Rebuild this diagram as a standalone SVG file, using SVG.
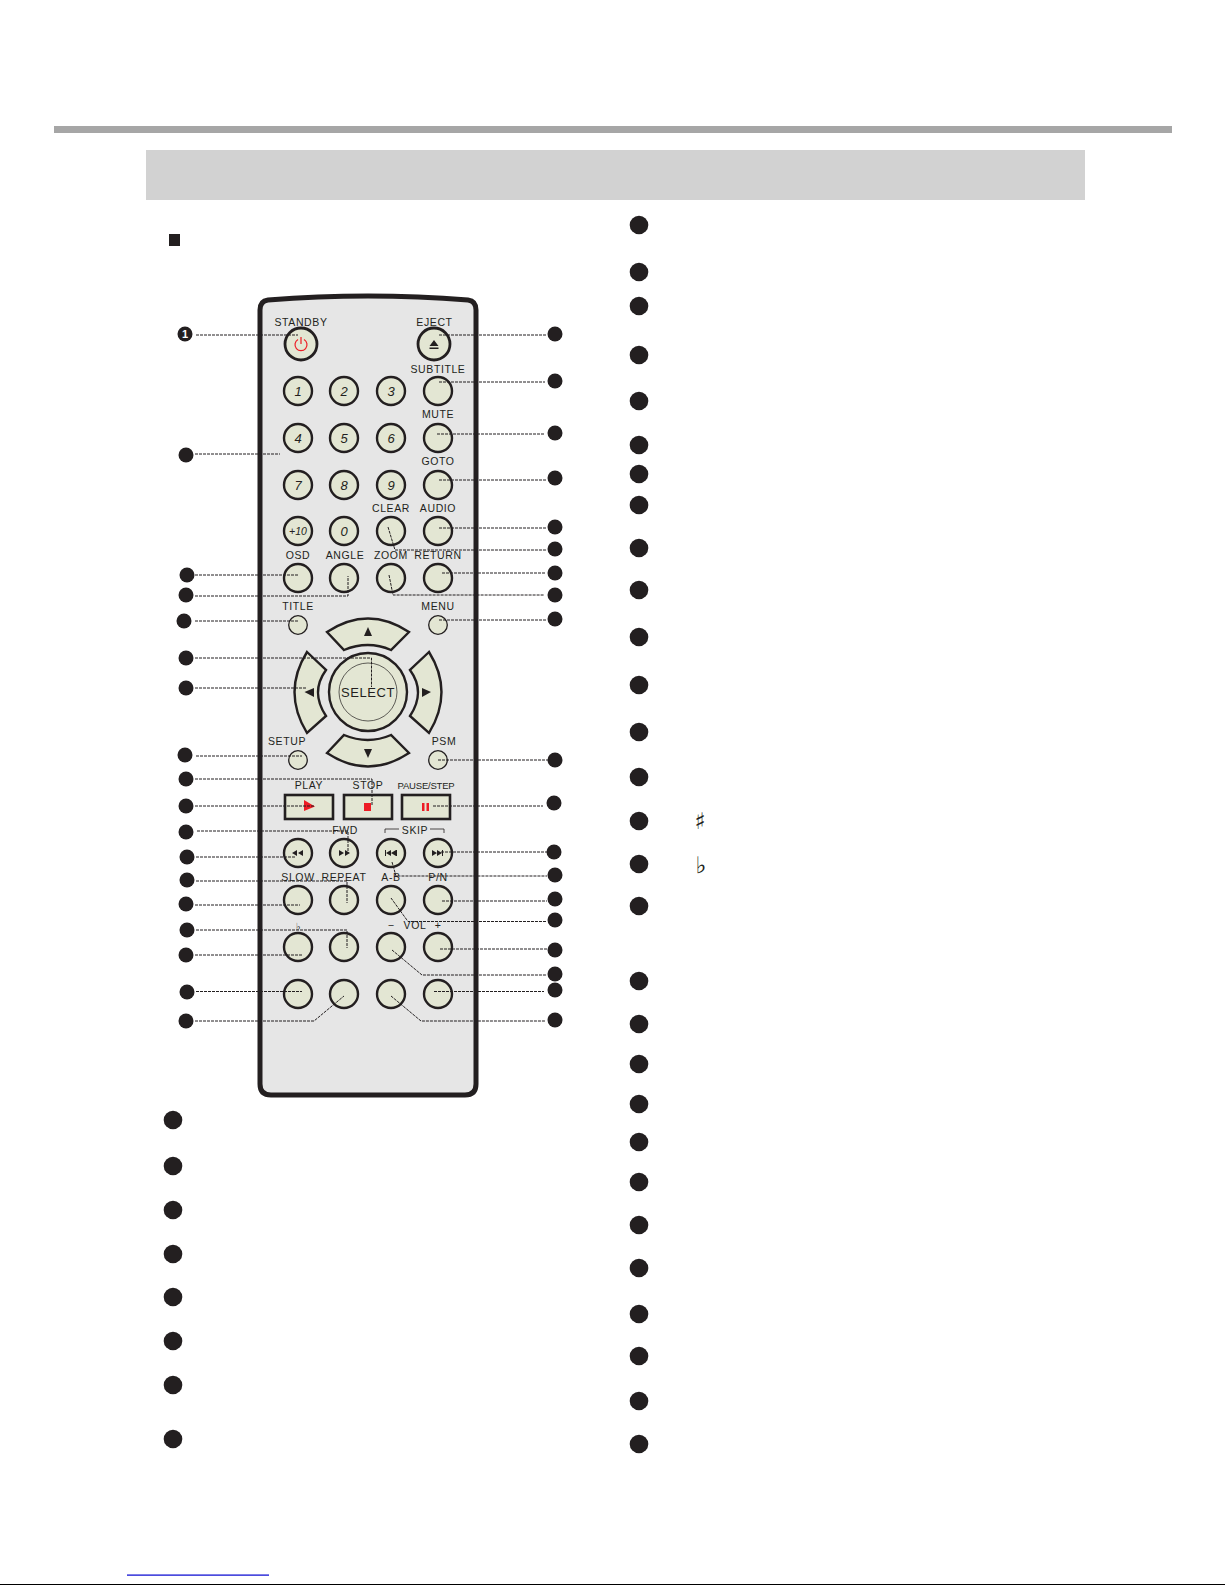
<svg xmlns="http://www.w3.org/2000/svg" width="1225" height="1585" viewBox="0 0 1225 1585">
<style>
.l{font-family:"Liberation Sans",Arial,sans-serif;font-size:10.5px;letter-spacing:.6px;fill:#231f20;text-anchor:middle}
.n{font-family:"Liberation Sans",Arial,sans-serif;font-size:13px;font-style:italic;fill:#231f20;text-anchor:middle}
.b{fill:#e3e6d3;stroke:#231f20;stroke-width:2.400}
.b3{fill:#e3e6d3;stroke:#231f20;stroke-width:2.800}
.d{fill:#231f20}
.c{fill:none;stroke:#231f20;stroke-width:1;stroke-dasharray:3 1}
.s{font-family:"DejaVu Sans",sans-serif;font-weight:700;fill:#231f20;text-anchor:middle}
</style>
<rect width="1225" height="1585" fill="#fff"/>
<g id="header">
<rect x="54" y="126" width="1118" height="7" fill="#a6a6a6"/>
<rect x="146" y="150" width="939" height="50" fill="#d2d2d2"/>
<rect x="169" y="234" width="11" height="12" fill="#231f20"/>
</g>
<g id="remote">
<path d="M268 300Q368 292 468 300Q476 301 476 310V1084Q476 1095 465 1095H271Q260 1095 260 1084V310Q260 301 268 300Z" fill="#e6e6e6" stroke="#231f20" stroke-width="5"/>
</g>
<g id="btn-standby"><circle class="b3" cx="301" cy="344" r="16"/><path d="M298 339.500A6 6 0 1 0 304 339.500M301 337V344" fill="none" stroke="#ed1c24" stroke-width="1.200"/><text class="l" x="301" y="326">STANDBY</text></g>
<g id="btn-eject"><circle class="b3" cx="434" cy="344" r="16"/><path d="M434 340L429.500 346H438.500ZM429.500 347.500H438.500V349H429.500Z" fill="#231f20"/><text class="l" x="434.500" y="326">EJECT</text></g>
<g id="btn-1"><circle class="b" cx="298" cy="391" r="14"/><text class="n" x="298" y="396">1</text></g>
<g id="btn-2"><circle class="b" cx="344" cy="391" r="14"/><text class="n" x="344" y="396">2</text></g>
<g id="btn-3"><circle class="b" cx="391" cy="391" r="14"/><text class="n" x="391" y="396">3</text></g>
<g id="btn-subtitle"><circle class="b" cx="438" cy="391" r="14"/><text class="l" x="438" y="373">SUBTITLE</text></g>
<g id="btn-4"><circle class="b" cx="298" cy="438" r="14"/><text class="n" x="298" y="443">4</text></g>
<g id="btn-5"><circle class="b" cx="344" cy="438" r="14"/><text class="n" x="344" y="443">5</text></g>
<g id="btn-6"><circle class="b" cx="391" cy="438" r="14"/><text class="n" x="391" y="443">6</text></g>
<g id="btn-mute"><circle class="b" cx="438" cy="438" r="14"/><text class="l" x="438" y="418">MUTE</text></g>
<g id="btn-7"><circle class="b" cx="298" cy="485" r="14"/><text class="n" x="298" y="490">7</text></g>
<g id="btn-8"><circle class="b" cx="344" cy="485" r="14"/><text class="n" x="344" y="490">8</text></g>
<g id="btn-9"><circle class="b" cx="391" cy="485" r="14"/><text class="n" x="391" y="490">9</text></g>
<g id="btn-goto"><circle class="b" cx="438" cy="485" r="14"/><text class="l" x="438" y="465">GOTO</text></g>
<g id="btn-10"><circle class="b" cx="298" cy="531" r="14"/><text class="n" x="298" y="535" style="font-size:10.500px">+10</text></g>
<g id="btn-0"><circle class="b" cx="344" cy="531" r="14"/><text class="n" x="344" y="536">0</text></g>
<g id="btn-clear"><circle class="b" cx="391" cy="531" r="14"/><text class="l" x="391" y="512">CLEAR</text></g>
<g id="btn-audio"><circle class="b" cx="438" cy="531" r="14"/><text class="l" x="438" y="512">AUDIO</text></g>
<g id="btn-osd"><circle class="b" cx="298" cy="578" r="14"/><text class="l" x="298" y="559">OSD</text></g>
<g id="btn-angle"><circle class="b" cx="344" cy="578" r="14"/><text class="l" x="345" y="559">ANGLE</text></g>
<g id="btn-zoom"><circle class="b" cx="391" cy="578" r="14"/><text class="l" x="391" y="559">ZOOM</text></g>
<g id="btn-return"><circle class="b" cx="438" cy="578" r="14"/><text class="l" x="438" y="559">RETURN</text></g>
<g id="btn-title"><circle class="b" style="stroke-width:1.300" cx="298" cy="625" r="9.300"/><text class="l" x="298" y="610">TITLE</text></g>
<g id="btn-menu"><circle class="b" style="stroke-width:1.300" cx="438" cy="625" r="9.300"/><text class="l" x="438" y="610">MENU</text></g>
<g id="btn-up"><path class="b" d="M327 632Q368 605 409 632L391 650Q368 640 344 650Z"/><path class="d" d="M368 627L372 636H364Z"/></g>
<g id="btn-down"><path class="b" d="M327 753L344 735Q368 745 391 735L409 753Q368 780 327 753Z"/><path class="d" d="M368 758L372 749H364Z"/></g>
<g id="btn-left"><path class="b" d="M307 652L326 670Q310 692 326 716L307 733Q282 692 307 652Z"/><path class="d" d="M304.500 692L314 688V697Z"/></g>
<g id="btn-right"><path class="b" d="M429 652L410 670Q426 692 410 716L429 733Q454 692 429 652Z"/><path class="d" d="M431 692L422 688V697Z"/></g>
<g id="btn-select"><circle class="b" cx="368" cy="692" r="39"/><circle cx="368" cy="692" r="29" fill="none" stroke="#231f20" stroke-width=".7"/><text class="l" x="368" y="697" style="font-size:13px">SELECT</text></g>
<g id="btn-setup"><circle class="b" style="stroke-width:1.300" cx="298" cy="760" r="9.300"/><text class="l" x="287" y="745">SETUP</text></g>
<g id="btn-psm"><circle class="b" style="stroke-width:1.300" cx="438" cy="760" r="9.300"/><text class="l" x="444" y="745">PSM</text></g>
<g id="btn-play"><rect class="b" x="285" y="795" width="48" height="24" style="stroke-width:2.600"/><path d="M304 800L315 806.500L304 811Z" fill="#ed1c24"/><text class="l" x="309" y="789">PLAY</text></g>
<g id="btn-stop"><rect class="b" x="344" y="795" width="48" height="24" style="stroke-width:2.600"/><rect x="364" y="803" width="7" height="8" fill="#ed1c24"/><text class="l" x="368" y="789">STOP</text></g>
<g id="btn-pause"><rect class="b" x="402" y="795" width="48" height="24" style="stroke-width:2.600"/><path d="M422 803h2.500v8H422ZM426.500 803h2.500v8H426.500Z" fill="#ed1c24"/><text class="l" x="426" y="789" style="font-size:9.500px;letter-spacing:-.2px">PAUSE/STEP</text></g>
<g id="btn-rew"><circle class="b" cx="298" cy="853" r="14"/><path class="d" d="M292 853L297 850V856ZM298 853L303 850V856Z"/></g>
<g id="btn-fwd"><circle class="b" cx="344" cy="853" r="14"/><path class="d" d="M350 853L345 850V856ZM344 853L339 850V856Z"/><text class="l" x="345" y="834">FWD</text></g>
<g id="btn-prev"><circle class="b" cx="391" cy="853" r="14"/><path class="d" d="M385 850h1v6h-1ZM386 853L391 850V856ZM391 853L396 850V856ZM396 850h1v6h-1Z"/></g>
<g id="btn-next"><circle class="b" cx="438" cy="853" r="14"/><path class="d" d="M432 850L437 853L432 856ZM437 850L442 853L437 856ZM442 850h1v6h-1Z"/></g>
<g id="skip-label"><path d="M385 833V829H399M430 829H444V833" fill="none" stroke="#231f20" stroke-width=".8"/><text class="l" x="415" y="834">SKIP</text></g>
<g id="btn-slow"><circle class="b" cx="298" cy="900" r="14"/><text class="l" x="298" y="881">SLOW</text></g>
<g id="btn-repeat"><circle class="b" cx="344" cy="900" r="14"/><text class="l" x="344" y="881">REPEAT</text></g>
<g id="btn-ab"><circle class="b" cx="391" cy="900" r="14"/><text class="l" x="391" y="881">A-B</text></g>
<g id="btn-pn"><circle class="b" cx="438" cy="900" r="14"/><text class="l" x="438" y="881">P/N</text></g>
<g id="btn-flat"><circle class="b" cx="298" cy="947" r="14"/><text class="s" x="298" y="930" font-size="10">♭</text></g>
<g id="btn-sharp"><circle class="b" cx="344" cy="947" r="14"/></g>
<g id="btn-volminus"><circle class="b" cx="391" cy="947" r="14"/><text class="l" x="391" y="929">−</text></g>
<g id="btn-volplus"><circle class="b" cx="438" cy="947" r="14"/><text class="l" x="438" y="929">+</text></g>
<g id="vol-label"><text class="l" x="415" y="929">VOL</text></g>
<g id="btn-a"><circle class="b" cx="298" cy="994" r="14"/></g>
<g id="btn-b"><circle class="b" cx="344" cy="994" r="14"/></g>
<g id="btn-c"><circle class="b" cx="391" cy="994" r="14"/></g>
<g id="btn-d"><circle class="b" cx="438" cy="994" r="14"/></g>
<g id="connectors">
<path class="c" d="M196 335H298"/>
<path class="c" d="M195 454H280"/>
<path class="c" d="M195 575H298"/>
<path class="c" d="M195 596H348V576"/>
<path class="c" d="M195 621H298"/>
<path class="c" d="M195 658H371.500V687"/>
<path class="c" d="M195 688H306"/>
<path class="c" d="M196 756H302"/>
<path class="c" d="M195 779H372V805"/>
<path class="c" d="M195 806H315"/>
<path class="c" d="M197 831H348V853"/>
<path class="c" d="M196 857H295"/>
<path class="c" d="M196 881H347V903"/>
<path class="c" d="M195 905H300"/>
<path class="c" d="M196 930H347V948"/>
<path class="c" d="M195 955H302"/>
<path class="c" d="M196 991.500H302"/>
<path class="c" d="M195 1021H314L344 996"/>
<path class="c" d="M439 335H547"/>
<path class="c" d="M439 382H545"/>
<path class="c" d="M437 434H544"/>
<path class="c" d="M439 480H547"/>
<path class="c" d="M439 528H547"/>
<path class="c" d="M388 527L395 550H547"/>
<path class="c" d="M442 573H545"/>
<path class="c" d="M389 575L393 595H544"/>
<path class="c" d="M439 620H547"/>
<path class="c" d="M438 760H548"/>
<path class="c" d="M433 806H543"/>
<path class="c" d="M441 852H547"/>
<path class="c" d="M392 862L396 876H547"/>
<path class="c" d="M442 901H547"/>
<path class="c" d="M391 898L408 921.500H546"/>
<path class="c" d="M440 949H547"/>
<path class="c" d="M392 950L422 975H547"/>
<path class="c" d="M434 991.500H544"/>
<path class="c" d="M391 996L421 1021H545"/>
</g>
<g id="callouts-left">
<circle class="d" cx="185" cy="334" r="7.500"/>
<text x="185" y="338" font-family="Liberation Sans,sans-serif" font-weight="700" font-size="11" fill="#fff" text-anchor="middle">1</text>
<circle class="d" cx="186" cy="455" r="7.500"/>
<circle class="d" cx="187" cy="575" r="7.500"/>
<circle class="d" cx="186" cy="595" r="7.500"/>
<circle class="d" cx="184" cy="621" r="7.500"/>
<circle class="d" cx="186" cy="658" r="7.500"/>
<circle class="d" cx="186" cy="688" r="7.500"/>
<circle class="d" cx="185" cy="755" r="7.500"/>
<circle class="d" cx="186" cy="779" r="7.500"/>
<circle class="d" cx="186" cy="806" r="7.500"/>
<circle class="d" cx="186" cy="832" r="7.500"/>
<circle class="d" cx="187" cy="857" r="7.500"/>
<circle class="d" cx="187" cy="880" r="7.500"/>
<circle class="d" cx="186" cy="904" r="7.500"/>
<circle class="d" cx="187" cy="930" r="7.500"/>
<circle class="d" cx="186" cy="955" r="7.500"/>
<circle class="d" cx="187" cy="992" r="7.500"/>
<circle class="d" cx="186" cy="1021" r="7.500"/>
</g>
<g id="callouts-right">
<circle class="d" cx="555" cy="334" r="7.500"/>
<circle class="d" cx="555" cy="381" r="7.500"/>
<circle class="d" cx="555" cy="433" r="7.500"/>
<circle class="d" cx="555" cy="478" r="7.500"/>
<circle class="d" cx="555" cy="527" r="7.500"/>
<circle class="d" cx="555" cy="549" r="7.500"/>
<circle class="d" cx="555" cy="573" r="7.500"/>
<circle class="d" cx="555" cy="595" r="7.500"/>
<circle class="d" cx="555" cy="619" r="7.500"/>
<circle class="d" cx="555" cy="760" r="7.500"/>
<circle class="d" cx="554" cy="803" r="7.500"/>
<circle class="d" cx="554" cy="852" r="7.500"/>
<circle class="d" cx="555" cy="875" r="7.500"/>
<circle class="d" cx="555" cy="899" r="7.500"/>
<circle class="d" cx="555" cy="920" r="7.500"/>
<circle class="d" cx="555" cy="950" r="7.500"/>
<circle class="d" cx="555" cy="974" r="7.500"/>
<circle class="d" cx="555" cy="990" r="7.500"/>
<circle class="d" cx="555" cy="1020" r="7.500"/>
</g>
<g id="list-left">
<circle class="d" cx="173" cy="1120" r="9.300"/>
<circle class="d" cx="173" cy="1166" r="9.300"/>
<circle class="d" cx="173" cy="1210" r="9.300"/>
<circle class="d" cx="173" cy="1254" r="9.300"/>
<circle class="d" cx="173" cy="1297" r="9.300"/>
<circle class="d" cx="173" cy="1341" r="9.300"/>
<circle class="d" cx="173" cy="1385" r="9.300"/>
<circle class="d" cx="173" cy="1439" r="9.300"/>
</g>
<g id="list-right">
<circle class="d" cx="639" cy="225" r="9.300"/>
<circle class="d" cx="639" cy="272" r="9.300"/>
<circle class="d" cx="639" cy="306" r="9.300"/>
<circle class="d" cx="639" cy="355" r="9.300"/>
<circle class="d" cx="639" cy="401" r="9.300"/>
<circle class="d" cx="639" cy="445" r="9.300"/>
<circle class="d" cx="639" cy="474" r="9.300"/>
<circle class="d" cx="639" cy="505" r="9.300"/>
<circle class="d" cx="639" cy="548" r="9.300"/>
<circle class="d" cx="639" cy="590" r="9.300"/>
<circle class="d" cx="639" cy="637" r="9.300"/>
<circle class="d" cx="639" cy="685" r="9.300"/>
<circle class="d" cx="639" cy="732" r="9.300"/>
<circle class="d" cx="639" cy="777" r="9.300"/>
<circle class="d" cx="639" cy="821" r="9.300"/>
<circle class="d" cx="639" cy="864" r="9.300"/>
<circle class="d" cx="639" cy="906" r="9.300"/>
<circle class="d" cx="639" cy="981" r="9.300"/>
<circle class="d" cx="639" cy="1024" r="9.300"/>
<circle class="d" cx="639" cy="1064" r="9.300"/>
<circle class="d" cx="639" cy="1104" r="9.300"/>
<circle class="d" cx="639" cy="1142" r="9.300"/>
<circle class="d" cx="639" cy="1182" r="9.300"/>
<circle class="d" cx="639" cy="1225" r="9.300"/>
<circle class="d" cx="639" cy="1268" r="9.300"/>
<circle class="d" cx="639" cy="1314" r="9.300"/>
<circle class="d" cx="639" cy="1356" r="9.300"/>
<circle class="d" cx="639" cy="1401" r="9.300"/>
<circle class="d" cx="639" cy="1444" r="9.300"/>
<text class="s" x="700" y="829" font-size="23">♯</text>
<text class="s" x="701" y="873" font-size="23">♭</text>
</g>
<g id="footer">
<rect x="127" y="1574.500" width="142" height="1.200" fill="#0000d0"/>
<rect x="0" y="1584" width="1225" height="1" fill="#000"/>
</g>
</svg>
